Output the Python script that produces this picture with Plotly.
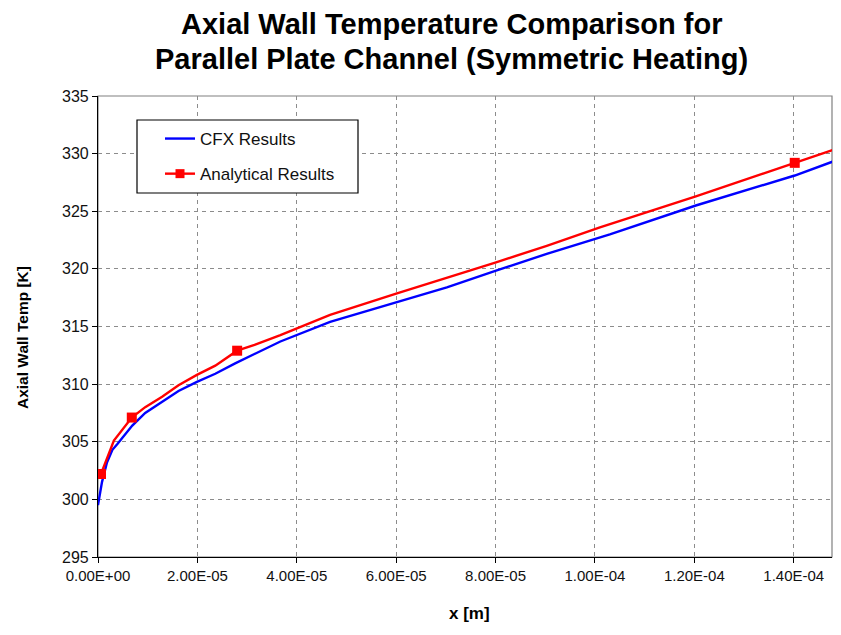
import plotly.graph_objects as go

# ---- data (x in metres, T in K) ----
cfx_x_e5 = [0.00, 0.08, 0.18, 0.29, 0.39, 0.52, 0.69, 0.95, 1.29, 1.62, 1.99, 2.36,
            2.76, 3.15, 3.67, 4.67, 6.00, 7.02, 8.01, 9.03, 10.30, 12.03, 14.02, 14.78]
cfx_T = [299.5, 301.5, 303.2, 304.3, 304.8, 305.5, 306.4, 307.5, 308.5, 309.4, 310.2, 310.9,
         311.8, 312.6, 313.7, 315.4, 317.1, 318.4, 319.85, 321.3, 323.0, 325.5, 328.1, 329.3]

ana_x_e5 = [0.06, 0.32, 0.68, 0.95, 1.29, 1.62, 1.99, 2.36, 2.80, 3.15, 3.67, 3.87, 4.67,
            6.00, 7.02, 8.01, 9.03, 10.10, 12.03, 14.02, 14.78]
ana_T = [302.2, 305.1, 307.1, 308.0, 308.9, 309.9, 310.8, 311.6, 312.9, 313.4, 314.25, 314.6, 316.0,
         317.85, 319.2, 320.57, 322.0, 323.6, 326.3, 329.2, 330.3]

mark_x_e5 = [0.06, 0.68, 2.80, 14.02]
mark_T = [302.2, 307.1, 312.9, 329.2]

x_tickvals = [0, 2e-5, 4e-5, 6e-5, 8e-5, 1e-4, 1.2e-4, 1.4e-4]
x_ticktext = ["0.00E+00", "2.00E-05", "4.00E-05", "6.00E-05", "8.00E-05",
              "1.00E-04", "1.20E-04", "1.40E-04"]
y_tickvals = [295, 300, 305, 310, 315, 320, 325, 330, 335]

title_lines = ["Axial Wall Temperature Comparison for",
               "Parallel Plate Channel (Symmetric Heating)"]

cfx_x = [v * 1e-5 for v in cfx_x_e5]
ana_x = [v * 1e-5 for v in ana_x_e5]
mark_x = [v * 1e-5 for v in mark_x_e5]

FONT = "Liberation Sans, Arial, sans-serif"
BLUE = "#0000FF"
RED = "#FF0000"

# page coordinates of the plot area (the page body adds an 8px offset)
PL, PR, PT, PB = 98, 832, 96, 557
PW, PH = PR - PL, PB - PT


def px(X):
    return (X - PL) / PW


def py(Y):
    return (PB - Y) / PH


fig = go.Figure()
fig.add_trace(go.Scatter(x=cfx_x, y=cfx_T, mode="lines", name="CFX Results",
                         line=dict(color=BLUE, width=2.4), legendgroup="a"))
fig.add_trace(go.Scatter(x=ana_x, y=ana_T, mode="lines", name="Analytical Results",
                         line=dict(color=RED, width=2.4), showlegend=False, legendgroup="b"))
fig.add_trace(go.Scatter(x=mark_x, y=mark_T, mode="markers", name="Analytical Results",
                         marker=dict(color=RED, symbol="square", size=10),
                         showlegend=False, legendgroup="b"))
# legend entry for the analytical series (line + marker)
fig.add_trace(go.Scatter(x=[None], y=[None], mode="lines+markers", name="Analytical Results",
                         line=dict(color=RED, width=2.4),
                         marker=dict(color=RED, symbol="square", size=9), legendgroup="b"))

fig.update_layout(
    width=833, height=627,
    margin=dict(l=PL - 8, r=841 - PR, t=PT - 8, b=635 - PB),
    paper_bgcolor="white", plot_bgcolor="white",
    font=dict(family=FONT, color="black"),
    showlegend=True,
    legend=dict(x=px(138), y=py(121), xanchor="left", yanchor="top",
                bgcolor="rgba(0,0,0,0)", borderwidth=0,
                font=dict(size=17, family=FONT, color="#111"),
                tracegroupgap=10, indentation=22, itemwidth=30),
    xaxis=dict(range=[0, 1.477e-4], tickvals=x_tickvals, ticktext=x_ticktext,
               showgrid=True, gridcolor="#8c8c8c", griddash="4px,4px", gridwidth=1,
               showline=True, linecolor="black", linewidth=1.2,
               ticks="outside", ticklen=5, tickcolor="black",
               tickfont=dict(size=15, family=FONT, color="#111"), zeroline=False),
    yaxis=dict(range=[295, 335], tickvals=y_tickvals,
               showgrid=True, gridcolor="#8c8c8c", griddash="4px,4px", gridwidth=1,
               showline=True, linecolor="black", linewidth=1.2,
               ticks="outside", ticklen=5, tickcolor="black",
               tickfont=dict(size=16, family=FONT, color="#111"), zeroline=False),
)

# plot frame (top/right in gray)
fig.add_shape(type="rect", xref="paper", yref="paper", x0=0, y0=0, x1=1, y1=1,
              line=dict(color="#808080", width=1.2), layer="below")
# legend box
fig.add_shape(type="rect", xref="paper", yref="paper",
              x0=px(137), y0=py(193), x1=px(358), y1=py(120),
              line=dict(color="black", width=1.2), fillcolor="white", layer="above")

# titles
fig.add_annotation(text="<b>%s</b>" % title_lines[0], xref="paper", yref="paper",
                   x=px(451), y=py(24), xanchor="center", yanchor="middle",
                   showarrow=False, font=dict(size=29, family=FONT, color="black"))
fig.add_annotation(text="<b>%s</b>" % title_lines[1], xref="paper", yref="paper",
                   x=px(451), y=py(59), xanchor="center", yanchor="middle",
                   showarrow=False, font=dict(size=29, family=FONT, color="black"))
fig.add_annotation(text="<b>x [m]</b>", xref="paper", yref="paper",
                   x=px(469), y=py(613), xanchor="center", yanchor="middle",
                   showarrow=False, font=dict(size=17, family=FONT, color="black"))
fig.add_annotation(text="<b>Axial Wall Temp [K]</b>", xref="paper", yref="paper",
                   x=px(22), y=py(338), xanchor="center", yanchor="middle",
                   textangle=-90, showarrow=False, font=dict(size=15.5, family=FONT, color="black"))

fig.write_html("out.html")
